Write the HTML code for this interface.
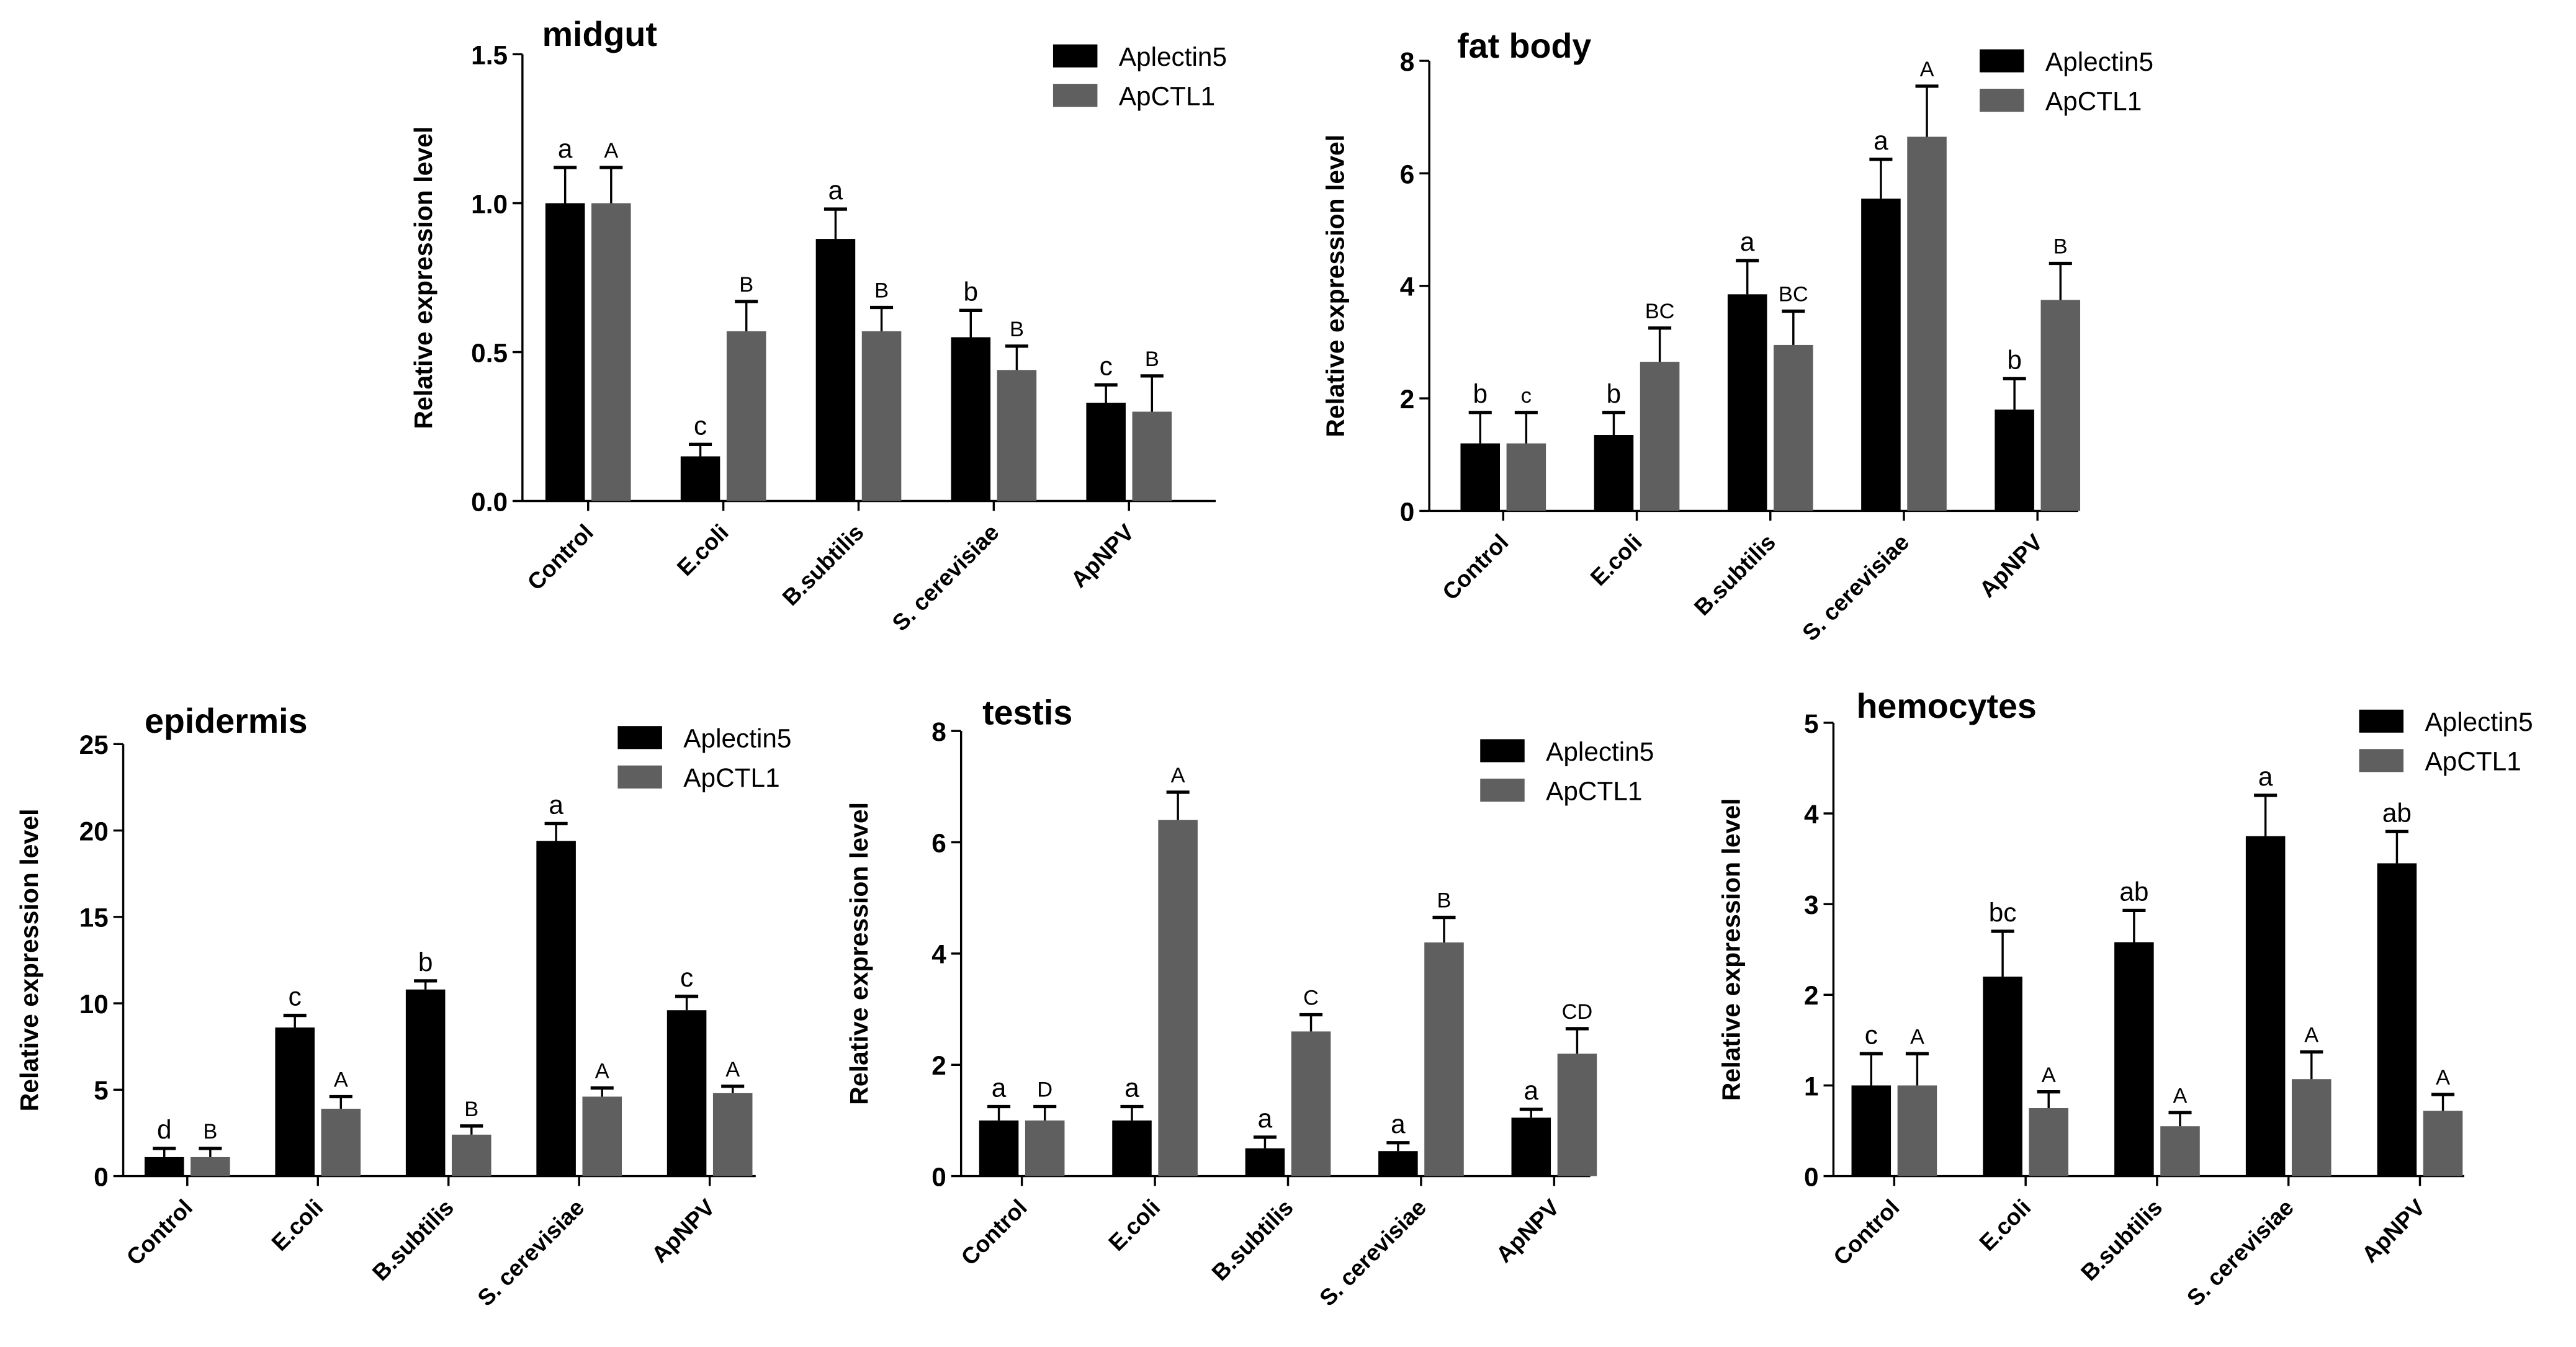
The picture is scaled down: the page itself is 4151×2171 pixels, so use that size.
<!DOCTYPE html>
<html><head><meta charset="utf-8"><style>
html,body{margin:0;padding:0;background:#fff;}
svg{display:block;}
text{font-family:"Liberation Sans",Arial,sans-serif;}
</style></head><body>
<svg id="fig" width="4151" height="2171" viewBox="0 0 1568 820" xmlns="http://www.w3.org/2000/svg"></svg>
<script>
const categories = ["Control","E.coli","B.subtilis","S. cerevisiae","ApNPV"];
const seriesNames = ["Aplectin5","ApCTL1"];
const midgutA = [1.0,0.15,0.88,0.55,0.33];
const midgutAErr = [0.12,0.04,0.1,0.09,0.06];
const midgutB = [1.0,0.57,0.57,0.44,0.30];
const midgutBErr = [0.12,0.1,0.08,0.08,0.12];
const midgutLetA = ["a","c","a","b","c"];
const midgutLetB = ["A","B","B","B","B"];
const midgutTicks = ["0.0","0.5","1.0","1.5"];
const fatA = [1.2,1.35,3.85,5.55,1.8];
const fatAErr = [0.55,0.4,0.6,0.7,0.55];
const fatB = [1.2,2.65,2.95,6.65,3.75];
const fatBErr = [0.55,0.6,0.6,0.9,0.65];
const fatLetA = ["b","b","a","a","b"];
const fatLetB = ["c","BC","BC","A","B"];
const fatTicks = ["0","2","4","6","8"];
const epiA = [1.1,8.6,10.8,19.4,9.6];
const epiAErr = [0.5,0.7,0.5,1.0,0.8];
const epiB = [1.1,3.9,2.4,4.6,4.8];
const epiBErr = [0.5,0.7,0.5,0.5,0.4];
const epiLetA = ["d","c","b","a","c"];
const epiLetB = ["B","A","B","A","A"];
const epiTicks = ["0","5","10","15","20","25"];
const testA = [1.0,1.0,0.5,0.45,1.05];
const testAErr = [0.25,0.25,0.2,0.15,0.15];
const testB = [1.0,6.4,2.6,4.2,2.2];
const testBErr = [0.25,0.5,0.3,0.45,0.45];
const testLetA = ["a","a","a","a","a"];
const testLetB = ["D","A","C","B","CD"];
const testTicks = ["0","2","4","6","8"];
const hemoA = [1.0,2.2,2.58,3.75,3.45];
const hemoAErr = [0.35,0.5,0.35,0.45,0.35];
const hemoB = [1.0,0.75,0.55,1.07,0.72];
const hemoBErr = [0.35,0.18,0.15,0.3,0.18];
const hemoLetA = ["c","bc","ab","a","ab"];
const hemoLetB = ["A","A","A","A","A"];
const hemoTicks = ["0","1","2","3","4","5"];

const NS="http://www.w3.org/2000/svg";
const svg=document.getElementById('fig');
function mk(tag,attrs,parent){const e=document.createElementNS(NS,tag);for(const k in attrs)e.setAttribute(k,attrs[k]);(parent||svg).appendChild(e);return e;}

function panel(cfg){
  const g=mk('g',{});
  
  
  const ymax=parseFloat(cfg.ticks[cfg.ticks.length-1]);
  const y=v=>cfg.y0-(v/ymax)*(cfg.y0-cfg.yTop);
  const x=i=>cfg.c0+i*cfg.step;
  const ya=mk('line',{x1:cfg.ax,y1:cfg.yTop,x2:cfg.ax,y2:cfg.y0,stroke:'#000','stroke-width':1.3},g);
  
  
  const xa=mk('line',{x1:cfg.ax,y1:cfg.y0,x2:cfg.xEnd,y2:cfg.y0,stroke:'#000','stroke-width':1.3},g);
  
  
  cfg.ticks.forEach(t=>{
    const yy=y(parseFloat(t));
    mk('line',{x1:cfg.ax-6,y1:yy,x2:cfg.ax,y2:yy,stroke:'#000','stroke-width':1.3},g);
    const tx=mk('text',{x:cfg.ax-9,y:yy+6,'text-anchor':'end','font-size':16,'font-weight':'bold'},g);
    tx.textContent=t;
    
    
  });
  categories.forEach((c,i)=>{
    const cx=x(i);
    mk('line',{x1:cx,y1:cfg.y0,x2:cx,y2:cfg.y0+6,stroke:'#000','stroke-width':1.3},g);
    const tx=mk('text',{x:cx+4,y:cfg.y0+20,'text-anchor':'end','font-size':14,'font-weight':'bold',transform:`rotate(-45 ${cx+4} ${cfg.y0+20})`},g);
    tx.textContent=c;
    
    
    [[cfg.A,cfg.AE,cfg.LA,'#000',-26],[cfg.B,cfg.BE,cfg.LB,'#5f5f5f',2]].forEach((s,k)=>{
      const v=s[0][i],e=s[1][i],bx=cx+s[4],w=24;
      const r=mk('rect',{x:bx,y:y(v),width:w,height:cfg.y0-y(v),fill:s[3]},g);
      
      
      const mx=bx+w/2, te=y(v+e);
      mk('line',{x1:mx,y1:y(v),x2:mx,y2:te,stroke:'#000','stroke-width':1.3},g);
      mk('line',{x1:mx-7,y1:te,x2:mx+7,y2:te,stroke:'#000','stroke-width':2},g);
      const lt=mk('text',{x:mx,y:te-6,'text-anchor':'middle','font-size':k?13:16},g);
      lt.textContent=s[2][i];
      
      
    });
  });
  const ti=mk('text',{x:cfg.tx,y:cfg.ty,'font-size':21,'font-weight':'bold'},g);
  ti.textContent=cfg.title;
  
  
  const yl=mk('text',{x:cfg.ylx,y:(cfg.yTop+cfg.y0)/2,'text-anchor':'middle','font-size':15.5,'font-weight':'bold',transform:`rotate(-90 ${cfg.ylx} ${(cfg.yTop+cfg.y0)/2})`},g);
  yl.textContent='Relative expression level';
  
  
  seriesNames.forEach((n,k)=>{
    const ly=cfg.ly+k*24;
    const r=mk('rect',{x:cfg.lx,y:ly-7,width:27,height:14,fill:k?'#5f5f5f':'#000'},g);
    
    
    const t=mk('text',{x:cfg.lx+40,y:ly+6,'font-size':16},g);
    t.textContent=n;
    
    
  });
}
panel({key:'midgut',title:'midgut',A:midgutA,AE:midgutAErr,B:midgutB,BE:midgutBErr,LA:midgutLetA,LB:midgutLetB,ticks:midgutTicks,ax:318,yTop:33,y0:305,xEnd:740,c0:358,step:82.3,tx:330,ty:28,ylx:263,lx:641,ly:34});
panel({key:'fat-body',title:'fat body',A:fatA,AE:fatAErr,B:fatB,BE:fatBErr,LA:fatLetA,LB:fatLetB,ticks:fatTicks,ax:870,yTop:37,y0:311,xEnd:1265,c0:915,step:81.3,tx:887,ty:35,ylx:818,lx:1205,ly:37});
panel({key:'epidermis',title:'epidermis',A:epiA,AE:epiAErr,B:epiB,BE:epiBErr,LA:epiLetA,LB:epiLetB,ticks:epiTicks,ax:75,yTop:453,y0:716,xEnd:460,c0:114,step:79.5,tx:88,ty:446,ylx:23,lx:376,ly:449});
panel({key:'testis',title:'testis',A:testA,AE:testAErr,B:testB,BE:testBErr,LA:testLetA,LB:testLetB,ticks:testTicks,ax:585,yTop:445,y0:716,xEnd:968,c0:622,step:81,tx:598,ty:441,ylx:528,lx:901,ly:457});
panel({key:'hemocytes',title:'hemocytes',A:hemoA,AE:hemoAErr,B:hemoB,BE:hemoBErr,LA:hemoLetA,LB:hemoLetB,ticks:hemoTicks,ax:1116,yTop:440,y0:716,xEnd:1500,c0:1153,step:80,tx:1130,ty:437,ylx:1059,lx:1436,ly:439});
</script>
</body></html>
